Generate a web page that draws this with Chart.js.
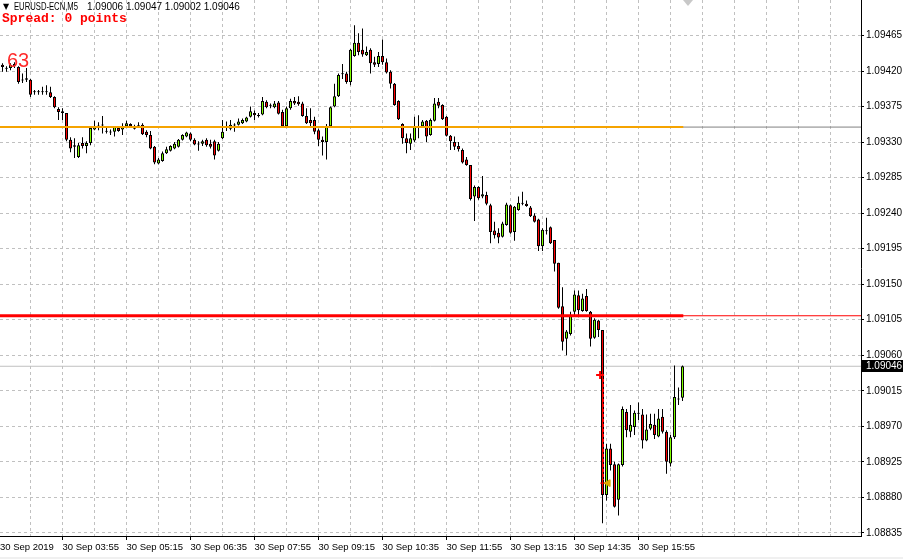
<!DOCTYPE html>
<html>
<head>
<meta charset="utf-8">
<script src="https://cdn.jsdelivr.net/npm/chart.js@4/dist/chart.umd.min.js"></script>
<style>
  html, body { margin: 0; padding: 0; background: #fff; }
  #wrap { width: 903px; height: 559px; }
</style>
</head>
<body>
<div id="wrap"><canvas id="chart" width="903" height="559"></canvas></div>
<script>
// EURUSD M5 candles, 30 Sep 2019 (first one is the 02:35 bar)
const openP = [
  1.09424,1.09428,1.09424,1.09424,1.09426,1.09425,1.09409,1.09411,1.09409,1.09393,
  1.09394,1.09393,1.09394,1.09393,1.09387,1.09372,1.09369,1.09367,1.09333,1.09326,
  1.09311,1.09329,1.09325,1.09329,1.09346,1.09351,1.09352,1.09344,1.09343,1.09343,
  1.09348,1.09346,1.09350,1.09353,1.09348,1.09351,1.09352,1.09343,1.09339,1.09324,
  1.09303,1.09306,1.09316,1.09319,1.09322,1.09324,1.09333,1.09337,1.09341,1.09333,
  1.09328,1.09328,1.09333,1.09328,1.09331,1.09319,1.09335,1.09349,1.09347,1.09352,
  1.09352,1.09354,1.09356,1.09362,1.09367,1.09364,1.09365,1.09381,1.09377,1.09374,
  1.09380,1.09368,1.09350,1.09373,1.09382,1.09381,1.09379,1.09363,1.09358,1.09358,
  1.09345,1.09333,1.09330,1.09350,1.09375,1.09388,1.09416,1.09417,1.09406,1.09439,
  1.09456,1.09447,1.09440,1.09447,1.09431,1.09429,1.09439,1.09431,1.09419,1.09404,
  1.09382,1.09353,1.09335,1.09328,1.09332,1.09350,1.09350,1.09357,1.09339,1.09357,
  1.09381,1.09377,1.09362,1.09338,1.09330,1.09325,1.09320,1.09308,1.09301,1.09261,
  1.09273,1.09261,1.09263,1.09250,1.09218,1.09215,1.09210,1.09225,1.09250,1.09216,
  1.09244,1.09253,1.09252,1.09247,1.09237,1.09232,1.09198,1.09218,1.09222,1.09206,
  1.09177,1.09122,1.09081,1.09087,1.09115,1.09136,1.09116,1.09135,1.09115,1.09082,
  1.09104,1.09092,1.08883,1.08942,1.08922,1.08877,1.08921,1.08988,1.08963,1.08969,
  1.08987,1.08985,1.08952,1.08967,1.08972,1.08957,1.08982,1.08963,1.08923,1.08956,
  1.09004,1.09006
];
const highP = [
  1.09429,1.09430,1.09426,1.09430,1.09431,1.09426,1.09417,1.09424,1.09410,1.09396,
  1.09396,1.09400,1.09402,1.09400,1.09388,1.09374,1.09373,1.09367,1.09336,1.09335,
  1.09329,1.09336,1.09331,1.09348,1.09357,1.09355,1.09363,1.09348,1.09346,1.09350,
  1.09349,1.09354,1.09357,1.09354,1.09352,1.09355,1.09354,1.09345,1.09344,1.09325,
  1.09310,1.09318,1.09324,1.09326,1.09330,1.09334,1.09340,1.09343,1.09342,1.09335,
  1.09331,1.09333,1.09335,1.09333,1.09333,1.09330,1.09358,1.09356,1.09358,1.09354,
  1.09360,1.09360,1.09362,1.09375,1.09370,1.09367,1.09387,1.09383,1.09379,1.09382,
  1.09382,1.09371,1.09375,1.09385,1.09387,1.09388,1.09381,1.09373,1.09373,1.09362,
  1.09347,1.09337,1.09353,1.09375,1.09404,1.09417,1.09429,1.09419,1.09448,1.09478,
  1.09468,1.09474,1.09451,1.09449,1.09438,1.09444,1.09460,1.09436,1.09421,1.09405,
  1.09383,1.09354,1.09341,1.09341,1.09362,1.09364,1.09358,1.09358,1.09360,1.09386,
  1.09386,1.09378,1.09363,1.09339,1.09337,1.09330,1.09322,1.09311,1.09301,1.09275,
  1.09274,1.09287,1.09267,1.09252,1.09229,1.09221,1.09229,1.09253,1.09251,1.09249,
  1.09261,1.09267,1.09256,1.09249,1.09240,1.09233,1.09221,1.09234,1.09223,1.09206,
  1.09177,1.09146,1.09092,1.09115,1.09142,1.09142,1.09138,1.09144,1.09116,1.09107,
  1.09105,1.09092,1.08948,1.08948,1.08925,1.08923,1.08995,1.08992,1.08997,1.08990,
  1.09000,1.08992,1.08985,1.08986,1.08986,1.08992,1.08992,1.08965,1.08959,1.09047,
  1.09019,1.09047
];
const lowP = [
  1.09421,1.09419,1.09419,1.09421,1.09424,1.09404,1.09405,1.09406,1.09387,1.09390,
  1.09390,1.09390,1.09390,1.09386,1.09373,1.09358,1.09358,1.09331,1.09317,1.09310,
  1.09310,1.09322,1.09316,1.09326,1.09345,1.09345,1.09341,1.09341,1.09339,1.09337,
  1.09343,1.09339,1.09349,1.09349,1.09346,1.09348,1.09339,1.09336,1.09321,1.09302,
  1.09302,1.09305,1.09315,1.09318,1.09321,1.09323,1.09332,1.09336,1.09331,1.09326,
  1.09319,1.09325,1.09324,1.09322,1.09308,1.09318,1.09334,1.09344,1.09345,1.09343,
  1.09351,1.09353,1.09355,1.09361,1.09358,1.09361,1.09364,1.09373,1.09373,1.09373,
  1.09365,1.09349,1.09349,1.09371,1.09377,1.09376,1.09362,1.09353,1.09349,1.09340,
  1.09325,1.09313,1.09308,1.09349,1.09374,1.09387,1.09410,1.09404,1.09402,1.09438,
  1.09440,1.09438,1.09439,1.09417,1.09425,1.09425,1.09428,1.09417,1.09398,1.09376,
  1.09358,1.09328,1.09316,1.09320,1.09330,1.09335,1.09349,1.09330,1.09338,1.09356,
  1.09373,1.09358,1.09337,1.09320,1.09320,1.09318,1.09303,1.09300,1.09256,1.09230,
  1.09257,1.09259,1.09250,1.09202,1.09208,1.09202,1.09209,1.09224,1.09214,1.09205,
  1.09243,1.09250,1.09248,1.09235,1.09228,1.09192,1.09192,1.09213,1.09201,1.09166,
  1.09119,1.09066,1.09060,1.09085,1.09109,1.09108,1.09115,1.09115,1.09071,1.09081,
  1.09083,1.08847,1.08876,1.08914,1.08867,1.08857,1.08919,1.08956,1.08956,1.08959,
  1.08978,1.08942,1.08951,1.08965,1.08954,1.08956,1.08961,1.08910,1.08919,1.08954,
  1.08997,1.09002
];
const closeP = [
  1.09426,1.09425,1.09423,1.09428,1.09429,1.09406,1.09408,1.09409,1.09390,1.09394,
  1.09393,1.09394,1.09393,1.09387,1.09374,1.09368,1.09367,1.09333,1.09322,1.09324,
  1.09326,1.09325,1.09329,1.09348,1.09349,1.09349,1.09351,1.09343,1.09342,1.09349,
  1.09344,1.09349,1.09354,1.09350,1.09347,1.09350,1.09340,1.09339,1.09322,1.09304,
  1.09308,1.09316,1.09321,1.09325,1.09328,1.09333,1.09339,1.09342,1.09333,1.09327,
  1.09327,1.09331,1.09326,1.09324,1.09313,1.09328,1.09343,1.09348,1.09352,1.09351,
  1.09356,1.09358,1.09361,1.09369,1.09364,1.09363,1.09382,1.09374,1.09376,1.09379,
  1.09366,1.09350,1.09373,1.09382,1.09379,1.09378,1.09363,1.09354,1.09354,1.09343,
  1.09333,1.09330,1.09349,1.09374,1.09388,1.09415,1.09417,1.09406,1.09447,1.09456,
  1.09444,1.09441,1.09444,1.09430,1.09428,1.09439,1.09431,1.09418,1.09404,1.09377,
  1.09359,1.09335,1.09329,1.09335,1.09349,1.09349,1.09356,1.09337,1.09358,1.09379,
  1.09376,1.09359,1.09338,1.09331,1.09324,1.09321,1.09304,1.09301,1.09258,1.09273,
  1.09259,1.09264,1.09252,1.09216,1.09212,1.09209,1.09227,1.09251,1.09215,1.09248,
  1.09253,1.09252,1.09249,1.09236,1.09229,1.09198,1.09219,1.09217,1.09202,1.09176,
  1.09120,1.09077,1.09090,1.09111,1.09137,1.09117,1.09132,1.09116,1.09081,1.09105,
  1.09092,1.08883,1.08942,1.08921,1.08868,1.08922,1.08992,1.08965,1.08972,1.08987,
  1.08986,1.08952,1.08966,1.08973,1.08959,1.08980,1.08963,1.08925,1.08956,1.09007,
  1.09005,1.09046
];

// time axis labels and the bar they sit on
const xTickIndex = [0, 16, 32, 48, 64, 80, 96, 112, 128, 144, 160];
const xTickLabels = ['30 Sep 2019', '30 Sep 03:55', '30 Sep 05:15', '30 Sep 06:35', '30 Sep 07:55',
  '30 Sep 09:15', '30 Sep 10:35', '30 Sep 11:55', '30 Sep 13:15', '30 Sep 14:35', '30 Sep 15:55'];

// price axis labels
const yTicks = [1.09465, 1.09420, 1.09375, 1.09330, 1.09285, 1.09240, 1.09195, 1.09150,
  1.09105, 1.09060, 1.09015, 1.08970, 1.08925, 1.08880, 1.08835];

// horizontal levels and the trade marks
const orangeLevel = 1.09349;
const redLevel = 1.09110;
const tradeOpen = [{ x: 150.4, y: 1.09035 }];
const tradeClose = [{ x: 152.4, y: 1.08898 }];
const tradeLine = [{ x: 151.25, y: 1.09030 }, { x: 151.25, y: 1.08902 }];
const tradeCloseLine = [{ x: 150.4, y: 1.08898 }, { x: 152.4, y: 1.08898 }];

const xMin = 0.375, xMax = 215.625;   // 4 px per bar
const yMin = 1.08831, yMax = 1.09510;
const levelEnd = 171.2;
const lastPrice = closeP[closeP.length - 1];

const idx = openP.map((_, i) => i);
const wicks = idx.map(i => ({ x: i, y: [lowP[i], highP[i]] }));
const bodies = idx.map(i => ({ x: i, y: [openP[i], closeP[i]] }));
const bodyColors = idx.map(i => closeP[i] >= openP[i] ? '#80ff00' : '#ff0000');

const FONT = '"Liberation Sans", Arial, sans-serif';
Chart.defaults.font.family = FONT;
Chart.defaults.color = '#000';

function hline(y, x1, x2, color, width, order) {
  return {
    type: 'line', data: [{ x: x1, y: y }, { x: x2, y: y }],
    borderColor: color, borderWidth: width, pointRadius: 0, pointHoverRadius: 0, order: order
  };
}

// texts and the price box
const overlay = {
  id: 'overlay',
  beforeDraw(chart) {
    const ctx = chart.ctx;
    ctx.save();
    ctx.fillStyle = '#fff';
    ctx.fillRect(0, 0, chart.width, chart.height);
    ctx.fillStyle = '#f0f0f0';
    ctx.fillRect(0, 557, chart.width, 2);
    ctx.restore();
  },
  afterDraw(chart) {
    const ctx = chart.ctx;
    const ys = chart.scales.y;
    const xs = chart.scales.x;
    const n = closeP.length - 1;
    ctx.save();
    ctx.textBaseline = 'middle';

    ctx.fillStyle = '#000';
    ctx.font = '8px "DejaVu Sans", sans-serif';
    ctx.fillText('▼', 3, 7);
    ctx.font = '10px ' + FONT;
    ctx.fillText('EURUSD-ECN,M5', 14, 7, 64);
    ctx.fillText([openP[n], highP[n], lowP[n], closeP[n]].map(v => v.toFixed(5)).join(' '), 87, 7);

    ctx.fillStyle = '#ff0000';
    ctx.font = 'bold 13px "Liberation Mono", "Courier New", monospace';
    ctx.fillText('Spread: 0 points', 2, 19);

    ctx.fillStyle = '#ff2a2a';
    ctx.font = '20px ' + FONT;
    ctx.textBaseline = 'alphabetic';
    ctx.fillText('63', 7, 67);

    // chart shift marker
    const sx = Math.round(xs.getPixelForValue(172.4));
    ctx.fillStyle = '#c8c8c8';
    ctx.beginPath();
    ctx.moveTo(sx - 5, 0); ctx.lineTo(sx + 5, 0); ctx.lineTo(sx, 6);
    ctx.closePath(); ctx.fill();

    // last price box
    const py = Math.round(ys.getPixelForValue(lastPrice));
    ctx.fillStyle = '#000';
    ctx.fillRect(ys.left + 1, py - 6, chart.width - ys.left - 1, 12);
    ctx.fillStyle = '#fff';
    ctx.font = '10px ' + FONT;
    ctx.textBaseline = 'middle';
    ctx.fillText(lastPrice.toFixed(5), ys.left + 5, py + 0.5);
    ctx.restore();
  }
};

new Chart(document.getElementById('chart'), {
  type: 'bar',
  data: {
    datasets: [
      hline(lastPrice, xMin, xMax, '#c0c0c0', 1, 9),
      hline(orangeLevel, xMin, xMax, '#808080', 1, 9),
      hline(redLevel, xMin, xMax, '#ff0000', 1, 9),
      {
        type: 'bar', data: wicks, order: 8, grouped: false,
        barThickness: 3, maxBarThickness: 1, inflateAmount: 0,
        backgroundColor: '#000', borderWidth: 0
      },
      {
        type: 'bar', data: bodies, order: 7, grouped: false,
        barThickness: 3, maxBarThickness: 3, inflateAmount: 0, minBarLength: 1,
        backgroundColor: bodyColors, borderColor: '#000', borderWidth: 1, borderSkipped: false
      },
      hline(orangeLevel, xMin, levelEnd, '#f5a300', 2, 5),
      hline(redLevel, xMin, levelEnd, '#ff0000', 3, 5),
      {
        type: 'line', data: tradeLine, borderColor: '#ff0000', borderWidth: 1,
        borderDash: [3, 2], pointRadius: 0, order: 3
      },
      {
        type: 'line', data: tradeCloseLine, borderColor: '#ff0000', borderWidth: 1,
        pointRadius: 0, order: 3
      },
      {
        type: 'scatter', data: tradeOpen, pointStyle: 'cross', pointRadius: 4,
        borderColor: '#ff0000', borderWidth: 2, order: 1
      },
      {
        type: 'scatter', data: tradeClose, pointStyle: 'triangle', rotation: -90, pointRadius: 4,
        backgroundColor: '#e0a800', borderColor: '#e0a800', borderWidth: 1, order: 1
      }
    ]
  },
  options: {
    responsive: false,
    devicePixelRatio: 1,
    animation: false,
    layout: { padding: 0, autoPadding: false },
    plugins: { legend: { display: false }, tooltip: { enabled: false }, title: { display: false } },
    scales: {
      x: {
        type: 'linear', min: xMin, max: xMax, offset: false,
        grid: {
          offset: false, tickLength: 4,
          color: c => (c.tick && c.tick.value < 1) ? 'rgba(0,0,0,0)' : '#c0c0c0',
          tickColor: c => (c.tick && xTickIndex.indexOf(c.tick.value) > 0) ? '#000' : 'rgba(0,0,0,0)'
        },
        border: { color: '#000', width: 1, dash: [3, 3] },
        afterBuildTicks: s => {
          const t = [{ value: xMin }];
          for (let v = 8; v <= 208; v += 8) t.push({ value: v });
          s.ticks = t;
        },
        afterFit: s => { s.height = 23; s.paddingLeft = 0; s.paddingRight = 0; },
        ticks: {
          autoSkip: false, maxRotation: 0, minRotation: 0, align: 'start', padding: 2,
          font: { size: 9.5 },
          callback: v => {
            if (v === xMin) return xTickLabels[0];
            const k = xTickIndex.indexOf(v);
            return k > 0 ? xTickLabels[k] : '';
          }
        }
      },
      y: {
        type: 'linear', position: 'right', min: yMin, max: yMax,
        grid: { color: '#c0c0c0', tickLength: 3, tickColor: '#000' },
        border: { color: '#000', width: 1, dash: [3, 3] },
        afterBuildTicks: s => { s.ticks = yTicks.map(v => ({ value: v })); },
        afterFit: s => { s.width = 42; s.paddingTop = 0; s.paddingBottom = 0; },
        ticks: { padding: 2, font: { size: 10 }, callback: v => v.toFixed(5) }
      }
    }
  },
  plugins: [overlay]
});
</script>
</body>
</html>
